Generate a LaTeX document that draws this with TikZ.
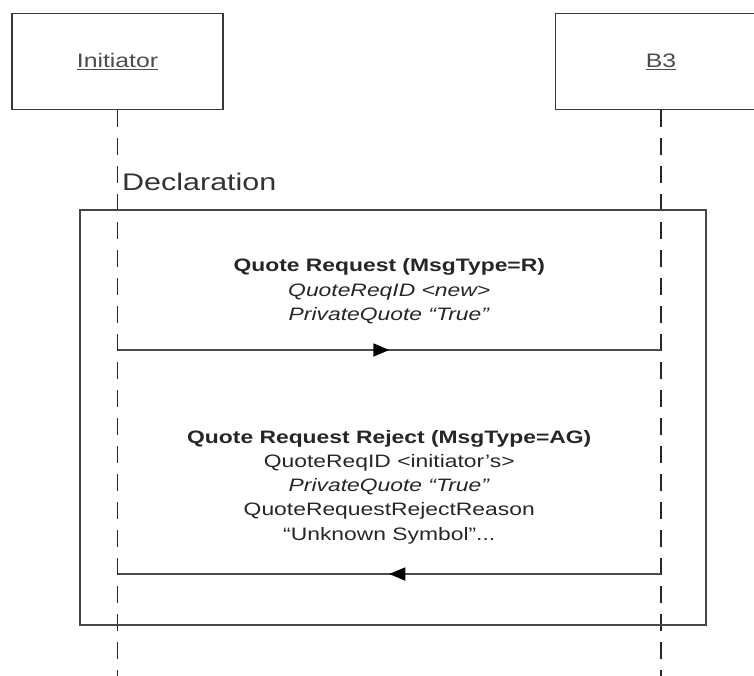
\documentclass[tikz,border=0pt]{standalone}
\usepackage{fontspec}
\setmainfont{Liberation Sans}[FakeStretch=1.27]
\usetikzlibrary{positioning,decorations.markings,arrows.meta}
\definecolor{boxgray}{RGB}{55,55,55}
\definecolor{framegray}{RGB}{70,70,70}
\definecolor{msggray}{RGB}{75,75,75}

\begin{document}
\begin{tikzpicture}[x=1pt, y=-1pt,
    actor/.style={draw=boxgray, line width=1.6pt, minimum width=211pt, minimum height=96pt,
      font=\fontsize{19.5}{22}\selectfont, text=black!70},
    lifeline/.style={draw=black!85, line width=1.4pt, dash pattern=on 17pt off 11pt},
    msg/.style={draw=msggray, line width=1.8pt, postaction={decorate},
      decoration={markings, mark=at position 0.5 with {\arrow[black]{Triangle[length=16pt,width=13pt]}}}},
    msgtext/.style={align=center, inner sep=0pt, font=\fontsize{18}{24.25}\selectfont, text=black!85}]
  \clip (0,0) rectangle (754,675);
  % actors
  \node[actor] (initiator) at (117.5,61.5) {\underline{Initiator}};
  \node[actor] (bthree) at (661,61.5) {\underline{B3}};
  \coordinate (initiatorEnd) at (117.5,680);
  \coordinate (bthreeEnd) at (661,680);
  \draw[lifeline] (initiator.south) -- (initiatorEnd);
  \draw[lifeline] (bthree.south) -- (bthreeEnd);
  % declaration frame
  \node[anchor=west, inner sep=0pt, font=\fontsize{24}{28}\selectfont, text=black!80] (decl) at (122,182) {Declaration};
  \node[draw=framegray, line width=1.5pt, minimum width=626pt, minimum height=415pt] (declframe) at (393,417.5) {};
  % quote request
  \coordinate (reqI) at (initiator.south |- 0,350);
  \coordinate (reqB) at (bthree.south |- 0,350);
  \draw[msg] (reqI) -- (reqB);
  \path (reqI) -- (reqB) coordinate[pos=0.5] (reqMid);
  \node[msgtext, above=26pt of reqMid] (reqText) {\textbf{Quote Request (MsgType=R)}\\
    \textit{QuoteReqID <new>}\\ \textit{PrivateQuote “True”}};
  % quote request reject
  \coordinate (rejB) at (bthree.south |- 0,574);
  \coordinate (rejI) at (initiator.south |- 0,574);
  \draw[msg] (rejB) -- (rejI);
  \path (rejB) -- (rejI) coordinate[pos=0.5] (rejMid);
  \node[msgtext, above=30pt of rejMid] (rejText) {\textbf{Quote Request Reject (MsgType=AG)}\\
    QuoteReqID <initiator’s>\\ \textit{PrivateQuote “True”}\\ QuoteRequestRejectReason\\
    “Unknown Symbol”...};
\end{tikzpicture}
\end{document}
